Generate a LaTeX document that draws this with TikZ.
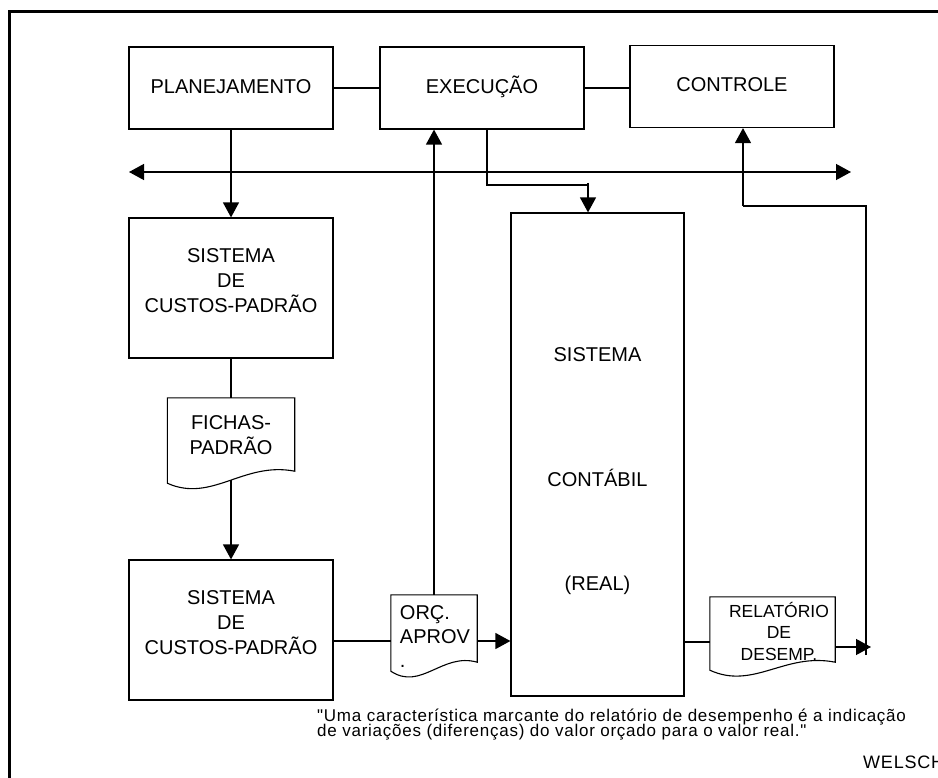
\documentclass[tikz,border=0pt]{standalone}
\usepackage{fontspec}
\setmainfont{Liberation Sans}
\usetikzlibrary{arrows.meta,calc}
\newcommand\docoutline[3]{%
  \draw[line width=1.1pt] (#1.south west) -- (#1.north west) -- (#1.north east)
    -- ($(#1.south east)+(0,-#3)$)
    .. controls ($(#1.south west)+(0.6*#2,-#3-10)$) and ($(#1.south west)+(0.35*#2,20)$) .. (#1.south west) -- cycle;}
\tikzset{
 box/.style={draw, line width=1.2pt, inner sep=0pt, minimum width=204pt, font=\fontsize{20}{25}\selectfont},
 onebox/.style={box, minimum height=82pt, text height=14.5pt, text depth=4pt},
 tallbox/.style={box, minimum height=140pt},
 docnode/.style={inner sep=0pt},
 boxtext/.style={align=center, font=\fontsize{20}{25}\selectfont, inner sep=0pt},
 ln/.style={line width=1.3pt},
 arr/.style={ln, -{Triangle[width=16pt,length=15pt]}},
 darr/.style={ln, {Triangle[width=16pt,length=15pt]}-{Triangle[width=16pt,length=15pt]}},
 quote/.style={anchor=base west, inner sep=0pt, font=\fontsize{17}{13.5}\selectfont\addfontfeatures{LetterSpace=4.4,Ligatures=TeXOff}},
}
\begin{document}
\begin{tikzpicture}[x=1pt,y=-1pt]
\useasboundingbox (0,0) rectangle (938,778);
\draw[line width=3pt] (9,778) -- (9,12) -- (938,12);

\node[onebox] (plan) at (231,88) {PLANEJAMENTO};
\node[onebox] (exec) at (482,88) {EXECUÇÃO};
\node[onebox] (ctrl) at (732,86.5) {CONTROLE};
\node[tallbox, label={[boxtext,yshift=7pt,name=s1t]center:{SISTEMA\\DE\\CUSTOS-PADRÃO}}] (sis1) at (231,288) {};
\node[tallbox, label={[boxtext,yshift=7pt,name=s2t]center:{SISTEMA\\DE\\CUSTOS-PADRÃO}}] (sis2) at (231,630) {};
\node[draw, line width=1.2pt, minimum width=173pt, minimum height=483pt, inner sep=0pt,
  label={[boxtext,yshift=99.5pt,name=ct1]center:SISTEMA},
  label={[boxtext,yshift=-23.5pt,name=ct2]center:CONTÁBIL},
  label={[boxtext,yshift=-130.5pt,name=ct3]center:(REAL)}] (cont) at (597.5,454.5) {};

\node[docnode, minimum width=127pt, minimum height=85pt,
  label={[boxtext,yshift=5pt,name=ft]center:{FICHAS-\\PADRÃO}}] (fichas) at (231,440.5) {};
\docoutline{fichas}{127}{12}
\node[docnode, minimum width=86pt, minimum height=76pt,
  label={[boxtext,align=left,xshift=1pt,yshift=-3.7pt,font=\fontsize{20}{24}\selectfont,name=ot]center:{ORÇ.\\APROV\\.}}] (orc) at (434,633) {};
\docoutline{orc}{86}{9}
\node[docnode, minimum width=125pt, minimum height=73pt,
  label={[boxtext,xshift=6.5pt,yshift=2.5pt,font=\fontsize{17.5}{21.5}\selectfont,name=rt]center:{RELATÓRIO\\DE\\DESEMP.}}] (rel) at (772.5,633.5) {};
\docoutline{rel}{125}{8}

\draw[ln] (plan.east) -- (exec.west);
\draw[ln] (exec.east) -- (ctrl.west |- exec.east);
\coordinate (hl) at (129,172);
\coordinate (hr) at (851,172);
\draw[darr] (hl) -- (hr);
\draw[arr] (plan.south) -- (sis1.north);
\draw[ln] (sis1.south) -- (fichas.north);
\draw[arr] ($(fichas.south)+(0,-3)$) -- (sis2.north);
\coordinate (ya) at (0,641);
\draw[ln] (sis2.east |- ya) -- (orc.west |- ya);
\draw[arr] (orc.east |- ya) -- (cont.west |- ya);
\coordinate (yb) at (0,642);
\draw[ln] (cont.east |- yb) -- (rel.west |- yb);
\coordinate (tip) at (871,647);
\draw[arr] (rel.east |- tip) -- (tip);
\draw[arr] (orc.north) -- (exec.south -| orc.north);
\coordinate (e1) at (487,185);
\coordinate (e2) at (588,185);
\coordinate (e3) at (588,183);
\draw[ln] (exec.south -| e1) -- (e1) -- (e2);
\draw[arr] (e3) -- (cont.north -| e3);
\coordinate (k1) at (743,206);
\coordinate (k2) at (866,206);
\coordinate (k3) at (866,655);
\draw[ln] (k3) -- (k2) -- (k1);
\draw[arr] (k1) -- (ctrl.south -| k1);

\node[quote] (q1) at (317,721.5) {"Uma característica marcante do relatório de desempenho é a indicação};
\node[quote] (q2) at (317,736) {de variações (diferenças) do valor orçado para o valor real."};
\node[quote, font=\fontsize{18}{20}\selectfont\addfontfeatures{LetterSpace=4.4}] (welsch) at (863,768) {WELSCH};
\end{tikzpicture}
\end{document}
